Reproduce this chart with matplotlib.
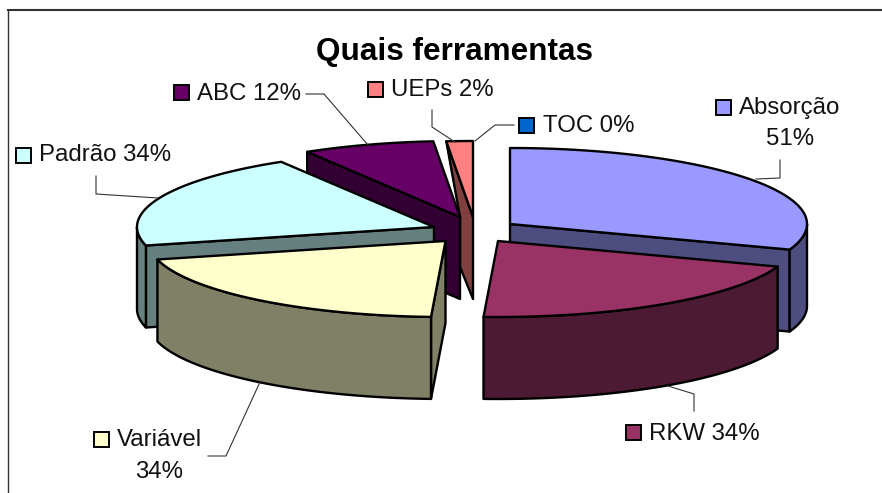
import numpy as np
import matplotlib
matplotlib.use('Agg')
import matplotlib.pyplot as plt
from matplotlib.patches import Polygon, Rectangle

plt.rcParams['font.family'] = ['Liberation Sans', 'DejaVu Sans']

# Dados
nomes = ['Absorção', 'RKW', 'Variável', 'Padrão', 'ABC', 'UEPs', 'TOC']
valores = [51, 34, 34, 34, 12, 2.4, 0]  # UEPs estimado pelo angulo da fatia, rotulo diz 2%
rotulos = ['Absorção\n51%', 'RKW 34%', 'Variável\n34%', 'Padrão 34%', 'ABC 12%', 'UEPs 2%', 'TOC 0%']
titulo = 'Quais ferramentas'

# Estilo
cores = ['#9999FF', '#993366', '#FFFFCC', '#CCFFFF', '#660066', '#FF8080', '#0066CC']
lados = ['#4D4D80', '#4D1A33', '#808066', '#668080', '#330033', '#804040', '#003366']
centros = [(510, 224), (498, 241), (445.5, 241), (434, 227), (460, 217), (473, 217), (473, 217)]
ordem = [5, 4, 3, 0, 2, 1]
rx, ry, prof = 297, 76, 82

# caixa da legenda (x, y do topo) e texto (x, linha de base)
chaves = [(716, 100), (626, 425), (94, 432), (16, 148), (174, 85), (368, 82), (519, 118)]
textos = [(739, 114), (649, 440), (117, 446), (39, 161), (197, 100), (391, 96), (543, 132)]
segundas = [(790, 145), None, (159, 478), None, None, None, None]
guias = [
    [(780, 160), (780, 178), (756, 179)],
    [(694, 411), (694, 394), (668, 386)],
    [(208, 456), (226, 456), (260, 382)],
    [(96, 176), (96, 194), (158, 198)],
    [(306, 94), (324, 94), (368, 145)],
    [(432, 110), (432, 127), (455, 142)],
    [(514, 125), (495, 125), (475, 141)],
]

fig = plt.figure(figsize=(8.82, 4.93), dpi=100)
ax = fig.add_axes([0, 0, 1, 1])
ax.set_xlim(0, 882)
ax.set_ylim(493, 0)
ax.axis('off')

# moldura: so topo e esquerda aparecem
ax.plot([8, 882], [10, 10], color='#333333', lw=1.5, zorder=1)
ax.plot([8, 8], [10, 493], color='#333333', lw=1.0, zorder=1)

limites = np.concatenate([[0], np.cumsum(valores)]) / np.sum(valores) * 360


def ponto(c, t, dz=0):
    return c[0] + rx * np.sin(np.radians(t)), c[1] - ry * np.cos(np.radians(t)) + dz


def face(pts, cor, z):
    ax.add_patch(Polygon(pts, closed=True, fc=cor, ec='black', lw=1.7, joinstyle='round', zorder=z))


z = 2
for i in ordem:
    c = centros[i]
    t0, t1 = limites[i], limites[i + 1]
    ts = np.linspace(t0, t1, max(int(t1 - t0) * 2, 2))
    # faces radiais visiveis
    if np.sin(np.radians(t0)) < 0:
        p = ponto(c, t0)
        if nomes[i] == 'UEPs':
            # no original a face termina junto do vertice da fatia ABC
            v = centros[nomes.index('ABC')]
            face([p, c, (c[0], c[1] + prof), (v[0], v[1] + prof - 32), v], lados[i], z)
        else:
            face([c, p, (p[0], p[1] + prof), (c[0], c[1] + prof)], lados[i], z)
    if np.sin(np.radians(t1)) > 0:
        p = ponto(c, t1)
        face([c, p, (p[0], p[1] + prof), (c[0], c[1] + prof)], lados[i], z)
    # borda externa, so a metade da frente
    a, b = max(t0, 90), min(t1, 270)
    if b > a:
        arco = np.linspace(a, b, 60)
        cima = [ponto(c, t) for t in arco]
        baixo = [ponto(c, t, prof) for t in arco[::-1]]
        face(cima + baixo, lados[i], z)
    # tampo
    face([c] + [ponto(c, t) for t in ts], cores[i], z)
    z += 1

# titulo
ax.text(454, 60, titulo, fontsize=22.7, fontweight='bold', ha='center', va='baseline', color='black', zorder=20)

# rotulos com chave de legenda
for i in range(len(nomes)):
    ax.plot(*zip(*guias[i]), color='#333333', lw=0.8, zorder=15)
    ax.add_patch(Rectangle(chaves[i], 14.5, 14.5, fc=cores[i], ec='black', lw=1.4, zorder=20))
    partes = rotulos[i].split('\n')
    ax.text(textos[i][0], textos[i][1], partes[0], fontsize=17.3, ha='left', va='baseline', color='#111111', zorder=20)
    if segundas[i] is not None:
        ax.text(segundas[i][0], segundas[i][1], partes[1], fontsize=17.3, ha='center', va='baseline', color='#111111', zorder=20)

fig.savefig('out.png', dpi=100)
